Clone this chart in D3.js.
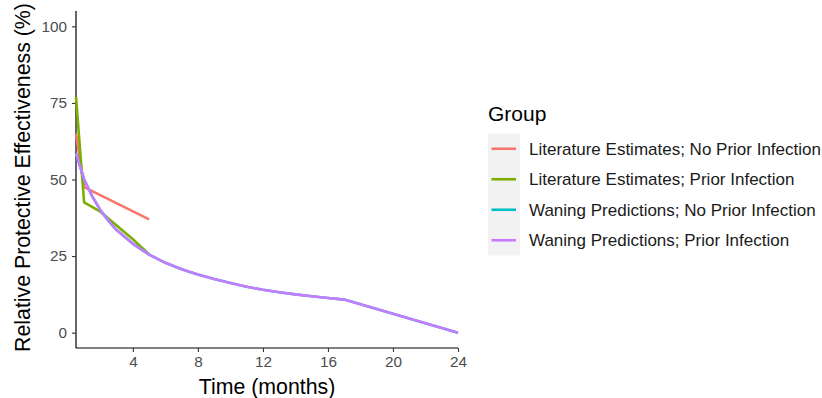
<!DOCTYPE html>
<html><head><meta charset="utf-8">
<script src="https://cdn.jsdelivr.net/npm/d3@7/dist/d3.min.js"></script>
<style>body{margin:0;background:#fff;} text{font-family:"Liberation Sans",Arial,sans-serif;}</style>
</head><body>
<svg id="c" width="822" height="398"></svg>
<script>
// ---- data ----
const groups = ["Literature Estimates; No Prior Infection","Literature Estimates; Prior Infection","Waning Predictions; No Prior Infection","Waning Predictions; Prior Infection"];
const colors = ["#F8766D","#7CAE00","#00BFC4","#C77CFF"];
const litNoPriorX = [0.5, 1, 5];
const litNoPriorY = [65, 47.5, 37];
const litPriorX = [0.5, 1, 2, 3, 4, 5];
const litPriorY = [77, 42.5, 39.5, 35, 30.5, 25.5];
const waneX = [0.5, 1, 1.5, 2, 2.5, 3, 4, 5, 6, 7, 8, 9, 10, 11, 12, 13, 14, 15, 16, 17, 18, 19, 20, 21, 22, 23, 24];
const waneNoPriorY = [58.5, 50, 44.5, 40, 36.5, 33.5, 29, 25.5, 22.8, 20.7, 19, 17.5, 16.2, 15, 14, 13.2, 12.5, 11.9, 11.3, 10.8, 9.3, 7.7, 6.2, 4.6, 3.1, 1.5, 0];
const wanePriorY = [58.5, 50, 44.5, 40, 36.5, 33.5, 29, 25.5, 22.8, 20.7, 19, 17.5, 16.2, 15, 14, 13.2, 12.5, 11.9, 11.3, 10.8, 9.3, 7.7, 6.2, 4.6, 3.1, 1.5, 0];
const xTicks = [4, 8, 12, 16, 20, 24];
const yTicks = [0, 25, 50, 75, 100];

const series = [
  {x: litNoPriorX, y: litNoPriorY},
  {x: litPriorX, y: litPriorY},
  {x: waneX, y: waneNoPriorY},
  {x: waneX, y: wanePriorY}
];

const svg = d3.select("#c");
const L = 76, R = 458, T = 11, B = 348;
const x = d3.scaleLinear().domain([0.5, 24]).range([L, R]);
const y = d3.scaleLinear().domain([-5, 105]).range([B, T]);

// axes
const xAxis = svg.append("g").attr("transform", `translate(0,${B})`)
  .call(d3.axisBottom(x).tickValues(xTicks).tickSize(4).tickPadding(4).tickSizeOuter(0));
const yAxis = svg.append("g").attr("transform", `translate(${L},0)`)
  .call(d3.axisLeft(y).tickValues(yTicks).tickSize(4).tickPadding(5).tickSizeOuter(0));
[xAxis, yAxis].forEach(g => {
  g.select(".domain").attr("stroke", "#000").attr("stroke-width", 1.2);
  g.selectAll(".tick line").attr("stroke", "#333").attr("stroke-width", 1.1);
  g.selectAll(".tick text").attr("fill", "#4D4D4D").style("font-size", "15.3px")
   .style("font-family", "'Liberation Sans', Arial, sans-serif");
});
yAxis.select(".domain").attr("d", `M0,${T}V${B}`);
xAxis.select(".domain").attr("d", `M0,0H${R - L}`).attr("transform", `translate(${L},0)`);

// lines
const line = d3.line().x(d => x(d[0])).y(d => y(d[1]));
series.forEach((s, i) => {
  const pts = s.x.map((v, j) => [v, s.y[j]]);
  svg.append("path").datum(pts).attr("d", line)
    .attr("fill", "none").attr("stroke", colors[i]).attr("stroke-width", 2.6)
    .attr("stroke-linejoin", "round");
});

// axis titles
svg.append("text").attr("x", (L + R) / 2).attr("y", 393.5).attr("text-anchor", "middle")
  .style("font-size", "21.3px").attr("fill", "#000").text("Time (months)");
svg.append("text").attr("transform", `translate(30,${(T + B) / 2 - 2}) rotate(-90)`)
  .attr("text-anchor", "middle").style("font-size", "21.3px").attr("fill", "#000")
  .text("Relative Protective Effectiveness (%)");

// legend
const lg = svg.append("g");
lg.append("text").attr("x", 488).attr("y", 120.5).style("font-size", "21px").attr("fill", "#000").text("Group");
const keyH = 30.5, keyTop = 133.5;
groups.forEach((g, i) => {
  const cy = keyTop + keyH * i + keyH / 2;
  lg.append("rect").attr("x", 488).attr("y", keyTop + keyH * i).attr("width", 32).attr("height", keyH)
    .attr("fill", "#F2F2F2");
  lg.append("line").attr("x1", 491.5).attr("x2", 516).attr("y1", cy).attr("y2", cy)
    .attr("stroke", colors[i]).attr("stroke-width", 2.6);
  lg.append("text").attr("x", 529).attr("y", cy).attr("dy", "0.35em").style("font-size", "17px")
    .attr("fill", "#1A1A1A").text(g);
});
</script>
</body></html>
